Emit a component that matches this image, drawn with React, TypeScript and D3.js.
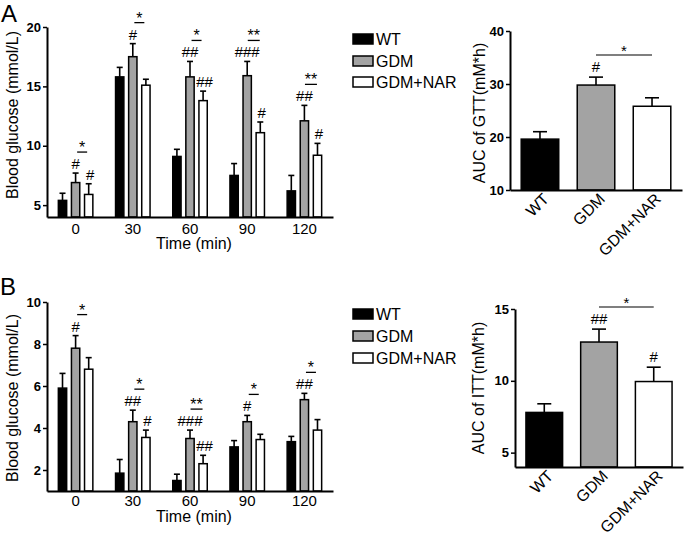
import React, { useRef, useEffect } from "react";
import * as d3 from "d3";

// Categories
const timePoints = ["0", "30", "60", "90", "120"];
const groups = ["WT", "GDM", "GDM+NAR"];
const groupFills = ["#000000", "#a3a3a3", "#ffffff"];

// Panel A - GTT (mmol/L), mean and SEM
const gttWT = [5.4, 15.8, 9.1, 7.5, 6.2];
const gttWTSem = [0.6, 0.8, 0.6, 1.0, 1.3];
const gttGDM = [6.9, 17.5, 15.8, 15.9, 12.1];
const gttGDMSem = [0.8, 1.1, 1.3, 1.2, 1.3];
const gttNAR = [5.9, 15.1, 13.8, 11.1, 9.2];
const gttNARSem = [0.9, 0.5, 0.8, 0.9, 1.0];
const gttHashGDM = ["#", "#", "##", "###", "##"];
const gttHashNAR = ["#", "", "##", "#", "#"];
const gttStars = ["*", "*", "*", "**", "**"];
const gttTicks = [5, 10, 15, 20];

// Panel A - AUC of GTT
const aucGtt = [19.6, 29.8, 25.8];
const aucGttSem = [1.4, 1.5, 1.6];
const aucGttHash = ["", "#", ""];
const aucGttTicks = [10, 20, 30, 40];

// Panel B - ITT (mmol/L)
const ittWT = [5.9, 1.85, 1.5, 3.1, 3.35];
const ittWTSem = [0.7, 0.65, 0.3, 0.3, 0.25];
const ittGDM = [7.8, 4.3, 3.5, 4.3, 5.35];
const ittGDMSem = [0.6, 0.55, 0.4, 0.3, 0.3];
const ittNAR = [6.8, 3.55, 2.3, 3.45, 3.9];
const ittNARSem = [0.55, 0.35, 0.4, 0.25, 0.5];
const ittHashGDM = ["#", "##", "###", "#", "##"];
const ittHashNAR = ["", "#", "##", "", ""];
const ittStars = ["*", "*", "**", "*", "*"];
const ittTicks = [2, 4, 6, 8, 10];

// Panel B - AUC of ITT
const aucItt = [7.8, 12.7, 9.95];
const aucIttSem = [0.6, 0.9, 1.0];
const aucIttHash = ["", "##", "#"];
const aucIttTicks = [5, 10, 15];

const FONT = "'Liberation Sans', Arial, Helvetica, sans-serif";

const styleAxis = (g) => {
  g.select(".domain").attr("stroke", "#000").attr("stroke-width", 2);
  g.selectAll(".tick line").attr("stroke", "#000").attr("stroke-width", 1.5);
  g.selectAll("text").attr("fill", "#000").style("font-family", FONT);
};

const drawGrouped = (svg, o) => {
  const x = d3.scaleBand().domain(timePoints).range([o.x0, o.x1]);
  const sub = d3.scaleBand().domain(groups).range([-18, 18]).paddingInner(0.25);
  const y = d3.scaleLinear().domain(o.domain).range([o.yB, o.yT]);
  const g = svg.append("g");

  const series = [
    { m: o.wt, s: o.wtSem, hash: null },
    { m: o.gdm, s: o.gdmSem, hash: o.hashGDM },
    { m: o.nar, s: o.narSem, hash: o.hashNAR },
  ];

  const hashTop = timePoints.map(() => Infinity);

  series.forEach((ser, gi) => {
    timePoints.forEach((t, i) => {
      const cx = x(t) + x.bandwidth() / 2 + sub(groups[gi]) + sub.bandwidth() / 2;
      const top = y(ser.m[i]);
      const errTop = y(ser.m[i] + ser.s[i]);
      g.append("line").attr("x1", cx).attr("x2", cx).attr("y1", top).attr("y2", errTop)
        .attr("stroke", "#000").attr("stroke-width", 1.6);
      g.append("line").attr("x1", cx - 3).attr("x2", cx + 3).attr("y1", errTop).attr("y2", errTop)
        .attr("stroke", "#000").attr("stroke-width", 1.6);
      g.append("rect")
        .attr("x", cx - sub.bandwidth() / 2 + 0.75)
        .attr("width", sub.bandwidth() - 1.5)
        .attr("y", top)
        .attr("height", o.yB - top)
        .attr("fill", groupFills[gi])
        .attr("stroke", "#000")
        .attr("stroke-width", 1.5);
      if (gi > 0) {
        const h = ser.hash[i];
        let t0 = errTop;
        if (h) {
          g.append("text").attr("x", cx + (gi === 2 ? 1.5 : 0)).attr("y", errTop - 4)
            .attr("text-anchor", "middle").style("font-family", FONT).style("font-size", "15px")
            .text(h);
          t0 = errTop - 15;
        }
        hashTop[i] = Math.min(hashTop[i], t0);
      }
    });
  });

  // significance lines between GDM and GDM+NAR
  timePoints.forEach((t, i) => {
    const mid = x(t) + x.bandwidth() / 2 + (sub("GDM") + sub("GDM+NAR")) / 2 + sub.bandwidth() / 2;
    const half = o.stars[i].length > 1 ? 6 : 5;
    const ly = hashTop[i] - 6;
    g.append("line").attr("x1", mid - half).attr("x2", mid + half).attr("y1", ly).attr("y2", ly)
      .attr("stroke", "#000").attr("stroke-width", 1.3);
    g.append("text").attr("x", mid).attr("y", ly + 1).attr("text-anchor", "middle")
      .style("font-family", FONT).style("font-size", "16px").text(o.stars[i]);
  });

  // Axes
  g.append("g").attr("transform", `translate(${o.x0},0)`)
    .call(d3.axisLeft(y).tickValues(o.ticks).tickSize(4).tickSizeOuter(0).tickPadding(2))
    .call(styleAxis)
    .selectAll("text").style("font-size", "13px").style("font-weight", "bold");

  g.append("g").attr("transform", `translate(0,${o.yB})`)
    .call(d3.axisBottom(x).tickSize(0).tickSizeOuter(0).tickPadding(o.tickPad))
    .call(styleAxis)
    .selectAll("text").style("font-size", "15px");

  g.append("text").attr("transform", `translate(18,${o.labelY}) rotate(-90)`)
    .attr("text-anchor", "middle").style("font-family", FONT).style("font-size", "16px")
    .text("Blood glucose (mmol/L)");
  g.append("text").attr("x", (o.x0 + o.x1) / 2 + 4).attr("y", o.titleY)
    .attr("text-anchor", "middle").style("font-family", FONT).style("font-size", "16px")
    .text("Time (min)");
};

const drawAuc = (svg, o) => {
  const x = d3.scaleBand().domain(groups).range([o.x0, o.x1]).paddingInner(0.33).paddingOuter(0.2);
  const y = d3.scaleLinear().domain(o.domain).range([o.yB, o.yT]);
  const g = svg.append("g");

  groups.forEach((grp, i) => {
    const cx = x(grp) + x.bandwidth() / 2;
    const top = y(o.m[i]);
    const errTop = y(o.m[i] + o.s[i]);
    g.append("line").attr("x1", cx).attr("x2", cx).attr("y1", top).attr("y2", errTop)
      .attr("stroke", "#000").attr("stroke-width", 1.6);
    g.append("line").attr("x1", cx - 7).attr("x2", cx + 7).attr("y1", errTop).attr("y2", errTop)
      .attr("stroke", "#000").attr("stroke-width", 1.6);
    g.append("rect").attr("x", x(grp)).attr("width", x.bandwidth()).attr("y", top)
      .attr("height", o.yB - top).attr("fill", groupFills[i]).attr("stroke", "#000").attr("stroke-width", 1.5);
    if (o.hash[i]) {
      g.append("text").attr("x", cx).attr("y", errTop - 5).attr("text-anchor", "middle")
        .style("font-family", FONT).style("font-size", "15px").text(o.hash[i]);
    }
    g.append("text")
      .attr("transform", `translate(${cx + 10},${o.yB + 10}) rotate(-45)`)
      .attr("text-anchor", "end").style("font-family", FONT).style("font-size", "16px")
      .text(grp);
  });

  const x1 = x("GDM") + x.bandwidth() / 2;
  const x2 = x("GDM+NAR") + x.bandwidth() / 2;
  g.append("line").attr("x1", x1).attr("x2", x2).attr("y1", o.starY).attr("y2", o.starY)
    .attr("stroke", "#000").attr("stroke-width", 1.2);
  g.append("text").attr("x", (x1 + x2) / 2).attr("y", o.starY + 1).attr("text-anchor", "middle")
    .style("font-family", FONT).style("font-size", "15px").text("*");

  g.append("g").attr("transform", `translate(${o.x0},0)`)
    .call(d3.axisLeft(y).tickValues(o.ticks).tickSize(4).tickSizeOuter(0).tickPadding(2))
    .call(styleAxis)
    .selectAll("text").style("font-size", "13px").style("font-weight", "bold");
  g.append("g").attr("transform", `translate(0,${o.yB})`)
    .call(d3.axisBottom(x).tickSize(0).tickSizeOuter(0).tickFormat(() => ""))
    .call(styleAxis);

  g.append("text").attr("transform", `translate(${o.labelX},${o.labelY}) rotate(-90)`)
    .attr("text-anchor", "middle").style("font-family", FONT).style("font-size", "16px")
    .text(o.label);
};

const drawLegend = (svg, yRows) => {
  const g = svg.append("g");
  groups.forEach((grp, i) => {
    g.append("rect").attr("x", 353).attr("y", yRows[i] - 5).attr("width", 20).attr("height", 10)
      .attr("fill", groupFills[i]).attr("stroke", "#000").attr("stroke-width", 1.5);
    g.append("text").attr("x", 376).attr("y", yRows[i]).attr("dy", "0.36em")
      .style("font-family", FONT).style("font-size", "16px").text(grp);
  });
};

const App = () => {
  const svgRef = useRef(null);

  useEffect(() => {
    const svg = d3.select(svgRef.current);
    svg.selectAll("*").remove();

    svg.append("text").attr("x", 1).attr("y", 22).style("font-family", FONT).style("font-size", "24px").text("A");
    svg.append("text").attr("x", 0).attr("y", 295).style("font-family", FONT).style("font-size", "24px").text("B");

    drawGrouped(svg, {
      x0: 47, x1: 333, yT: 27, yB: 217, domain: [4, 20], ticks: gttTicks,
      wt: gttWT, wtSem: gttWTSem, gdm: gttGDM, gdmSem: gttGDMSem, nar: gttNAR, narSem: gttNARSem,
      hashGDM: gttHashGDM, hashNAR: gttHashNAR, stars: gttStars,
      tickPad: 6, titleY: 249, labelY: 115,
    });
    drawGrouped(svg, {
      x0: 47, x1: 333, yT: 302, yB: 491, domain: [1, 10], ticks: ittTicks,
      wt: ittWT, wtSem: ittWTSem, gdm: ittGDM, gdmSem: ittGDMSem, nar: ittNAR, narSem: ittNARSem,
      hashGDM: ittHashGDM, hashNAR: ittHashNAR, stars: ittStars,
      tickPad: 4, titleY: 522, labelY: 398,
    });

    drawAuc(svg, {
      x0: 510, x1: 682, yT: 31, yB: 190, domain: [10, 40], ticks: aucGttTicks,
      m: aucGtt, s: aucGttSem, hash: aucGttHash, starY: 55,
      label: "AUC of GTT(mM*h)", labelX: 485, labelY: 113,
    });
    drawAuc(svg, {
      x0: 515, x1: 683, yT: 309, yB: 467, domain: [4, 15], ticks: aucIttTicks,
      m: aucItt, s: aucIttSem, hash: aucIttHash, starY: 307,
      label: "AUC of ITT(mM*h)", labelX: 484, labelY: 388,
    });

    drawLegend(svg, [39, 61, 82]);
    drawLegend(svg, [314, 336, 358]);
  }, []);

  return <svg ref={svgRef} width={685} height={535} style={{ position: "absolute", left: 0, top: 0, background: "#fff" }} />;
};

export default App;
